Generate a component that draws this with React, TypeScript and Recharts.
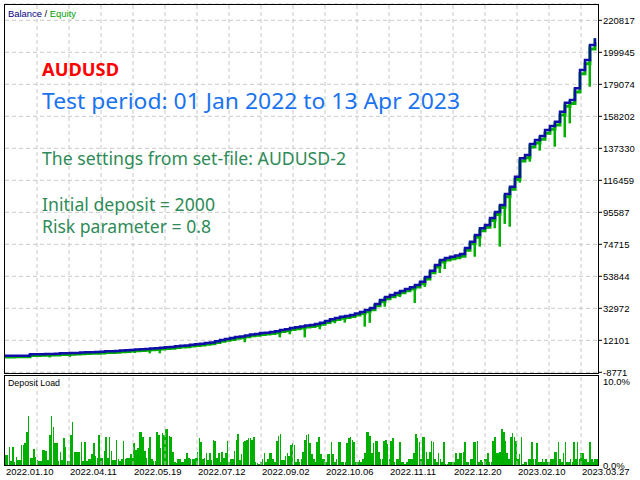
import { Bar, ComposedChart, Line, ReferenceLine, XAxis, YAxis, CartesianGrid } from "recharts";

// balance sampled evenly along the deal axis (119 samples)
const balance = [
  2000, 2000, 2000, 2000, 2100, 3000, 3000, 3050, 3100, 3200, 3250, 3600, 3650, 3800, 3850, 4150, 4300, 4350, 4450, 4600,
  4900, 4950, 5100, 5450, 5600, 5800, 6100, 6230, 6430, 6750, 6880, 7210, 7540, 7730, 8190, 8510, 8710, 9170, 9490, 9880,
  10340, 10665, 11450, 12300, 12950, 13600, 14250, 14580, 15230, 15880, 16210, 16860, 17060, 17510, 17970, 18820, 19270, 20120, 20580, 21100,
  21750, 22080, 22730, 23580, 24690, 25800, 26650, 27490, 27950, 28600, 29580, 30560, 31860, 33170, 35780, 38390, 40340, 41650, 42950, 44260,
  45560, 46670, 48170, 50320, 53390, 57500, 61220, 64480, 65780, 66630, 67410, 68390, 72300, 76410, 80780, 85150, 87300, 91870, 95780, 100350,
  107520, 112280, 118800, 130800, 132960, 140130, 142740, 145350, 149260, 151870, 154680, 161200, 167070, 168830, 176460, 188400, 194920, 204700, 209070,
];

const equity = [
  1200, 1250, 1300, 1300, 1350, 2200, 2250, 2300, 2350, 2450, 2500, 2850, 2900, 3050, 3100, 3400, 3550, 3600, 3700, 3850,
  4150, 4200, 4350, 4700, 4850, 5050, 5300, 5450, 5650, 5950, 6100, 6400, 6750, 6950, 7400, 7700, 7900, 8350, 8700, 9050,
  9500, 9850, 10600, 11450, 12100, 12700, 13400, 13700, 14350, 15000, 15350, 15950, 16200, 16600, 17100, 17900, 18350, 19200, 19650, 20200,
  20800, 21150, 21800, 22600, 23700, 24800, 25700, 26500, 26900, 27600, 28600, 29500, 30800, 32000, 34600, 37200, 39200, 40500, 41800, 43100,
  44400, 45500, 46900, 49000, 52100, 56200, 59900, 63100, 64400, 65300, 66000, 67000, 70900, 75000, 79300, 83600, 85800, 90300, 94200, 98700,
  105800, 110600, 117000, 129000, 131100, 138200, 140800, 143300, 147200, 149800, 152600, 159000, 164800, 166500, 174100, 186000, 192400, 202100, 206400,
];

// equity drawdown spikes: sample index -> lowest equity
const dipIndex = [5, 9, 13, 26, 29, 31, 48, 55, 57, 60, 63, 66, 68, 69, 72, 73, 74, 76, 79, 82, 84, 87, 88, 94, 95, 98, 99, 100, 101, 103, 105, 107, 110, 112, 113, 114, 117, 118];
const dipLow = [700, 900, 1200, 3800, 3600, 3600, 10800, 14000, 16000, 14000, 19300, 23200, 23600, 27300, 21000, 23500, 31900, 34000, 40300, 36400, 46900, 56000, 58600, 66600, 73200, 85200, 73200, 88000, 86200, 114900, 128600, 135800, 138400, 144500, 153600, 166200, 177500, 205800];

const depositLoad = [
  1.1, 1.1, 2.0, 0.5, 2.0, 0.3, 0.9, 0.6, 0.6, 2.2, 2.2, 2.5, 3.75, 5.5, 0.8, 0.8, 1.8, 0.9, 0.6, 0.5,
  0.5, 1.7, 1.7, 1.6, 0.6, 3.4, 5.5, 4.3, 2.5, 2.5, 0.5, 1.5, 0.6, 3.0, 2.0, 0.5, 0.5, 3.4, 4.8, 1.5,
  1.5, 1.5, 1.5, 2.6, 0.5, 2.6, 0.5, 0.7, 0.7, 1.25, 2.5, 1.0, 0.8, 3.4, 0.8, 0.8, 1.6, 3.2, 0.8, 3.1,
  1.6, 0.6, 0.6, 2.8, 0.7, 0.5, 0.7, 2.7, 0.7, 0.8, 0.8, 1.25, 0.8, 2.5, 1.7, 1.9, 3.75, 3.75, 3.1, 1.6,
  0.8, 1.9, 3.1, 0.7, 0.5, 0.5, 3.75, 3.4, 1.9, 3.6, 3.4, 4.1, 4.1, 3.3, 3.1, 1.5, 0.3, 0.2, 0.7, 0.7,
  0.3, 0.3, 0.7, 1.4, 0.8, 0.7, 0.7, 0.7, 0.8, 1.5, 3.0, 2.6, 0.7,
  0.8, 1.4, 0.6, 1.4, 0.6, 2.8, 2.7, 0.8, 1.4, 0.3, 1.5, 0.8, 1.4, 2.7, 0.3, 0.7, 0.7, 1.6, 2.8, 3.5,
  0.6, 1.25, 2.6, 2.7, 2.8, 3.0, 3.0, 2.8, 3.1, 0.3, 0.2, 0.1, 0.3, 0.7, 1.4, 0.3, 0.7, 1.4, 1.4, 0.7,
  0.3, 2.7, 3.3, 3.5, 0.6, 0.6, 1.0, 1.4, 1.0, 2.2, 2.5, 2.2, 0.3, 0.7, 0.3, 0.7, 1.5, 2.8, 3.4, 3.5,
  2.5, 1.25, 0.7, 0.3, 2.6, 3.1, 1.25, 0.7, 0.7, 0.3, 1.25, 1.25, 2.6, 1.25, 0.3, 0.7, 2.6, 2.6, 0.3, 0.3,
  0.3, 2.5, 3.0, 3.1, 2.8, 2.6, 0.3, 0.3, 0.6, 0.3, 0.7, 1.4, 3.75, 3.75, 3.3, 1.4, 2.5, 2.7, 2.7, 1.5,
  0.7, 0.7, 2.7, 2.8, 2.4, 0.7, 2.7, 3.0, 0.3, 0.7, 0.7,
  2.6, 0.3, 0.3, 0.1, 0.3, 0.7, 0.7, 0.7, 1.4, 3.5, 3.0, 2.6, 0.7, 3.1, 3.1, 1.5, 0.7, 1.5, 2.7, 2.6,
  0.7, 0.3, 1.4, 0.7, 0.3, 2.6, 0.1, 0.1, 0.3, 0.3, 0.3, 0.3, 1.4, 0.7, 1.4, 1.4, 1.5, 2.6, 0.3, 0.3,
  0.7, 0.7, 2.6, 2.6, 2.7, 0.3, 0.6, 0.3, 0.7, 0.7, 1.4, 0.3, 0.3, 2.7, 3.1, 1.4, 1.4, 1.5, 4.0, 3.75,
  2.7, 1.4, 0.7, 3.1, 3.6, 3.2, 2.7, 0.7, 1.25, 3.1, 0.1, 0.3, 0.3, 0.7, 0.7, 2.6, 0.7, 0.7, 2.5, 0.3,
  0.3, 0.7, 0.3, 0.7, 0.3, 0.3, 0.7, 0.7, 1.5, 1.5, 2.6, 0.7, 0.3, 1.4, 2.6, 0.3, 0.3, 0.7, 0.3, 2.6,
  0.7, 2.6, 0.7, 1.4, 1.4, 0.7, 0.7, 0.3, 2.6, 0.7, 0.3, 0.7, 0.7,
];

const dateLabels = [
  "2022.01.10", "2022.04.11", "2022.05.19", "2022.07.12", "2022.09.02",
  "2022.10.06", "2022.11.11", "2022.12.20", "2023.02.10", "2023.03.27",
];
const balanceTicks = [-8771, 12101, 32972, 53844, 74715, 95587, 116459, 137330, 158202, 179074, 199945, 220817];
const loadTicks = [0, 10];

// both panels share one deal axis: 0 .. X_MAX
const X_MAX = 118.6;
const GRID_STEP = 6.4;
const gridX = Array.from({ length: 18 }, (_, k) => (k + 1) * GRID_STEP);
const dateTicks = dateLabels.map((_, k) => k * GRID_STEP * 2);

const GRID = "#c8c8c8";
const BLUE = "#1010a8";
const GREEN = "#00b000";
const AXIS_FONT = "'Liberation Sans', Arial, sans-serif";
const TEXT_FONT = "'Noto Sans', 'Open Sans', sans-serif";

const mainData = balance.map((b, i) => {
  const d = dipIndex.indexOf(i);
  return { i, balance: b, equity: equity[i], dip: d >= 0 ? [dipLow[d], b] : null };
});
// deposit-load samples are spread evenly over the same deal axis
const loadData = depositLoad.map((load, n) => ({ i: ((n + 0.5) * X_MAX) / depositLoad.length, load }));

function BalanceTick({ x, y, payload }: any) {
  return (
    <text x={x} y={y + 4} fontSize={9.5} fontFamily={AXIS_FONT} fill="#000" textAnchor="start">
      {payload.value}
    </text>
  );
}

function LoadTick({ x, y, payload }: any) {
  return (
    <text x={x} y={payload.value === 10 ? y + 9 : y + 3.5} fontSize={9.5} fontFamily={AXIS_FONT} fill="#000" textAnchor="start">
      {payload.value.toFixed(1)}%
    </text>
  );
}

function DateTick({ x, y, payload }: any) {
  const label = dateLabels[dateTicks.indexOf(payload.value)];
  return (
    <text x={x + 1} y={y + 9.5} fontSize={9.5} fontFamily={AXIS_FONT} fill="#000" textAnchor="start">
      {label}
    </text>
  );
}

const box = (top: number, height: number): React.CSSProperties => ({
  position: "absolute",
  left: 4,
  top,
  width: 595,
  height,
  border: "1px solid #000",
  boxSizing: "border-box",
  pointerEvents: "none",
});

export default function App() {
  return (
    <div style={{ position: "absolute", left: 0, top: 0, width: 640, height: 480, background: "#fff", overflow: "hidden" }}>
      <div style={{ position: "absolute", left: 0, top: 0 }}>
        <ComposedChart width={640} height={378} data={mainData} margin={{ top: 4, right: 0, bottom: 5, left: 5 }}>
          <CartesianGrid vertical={false} stroke={GRID} strokeDasharray="4 3" />
          <XAxis type="number" dataKey="i" domain={[0, X_MAX]} hide allowDataOverflow />
          <YAxis
            orientation="right"
            domain={[-9228, 231452]}
            ticks={balanceTicks}
            interval={0}
            width={42}
            tickSize={4}
            tickMargin={1}
            axisLine={false}
            tickLine={{ stroke: "#000" }}
            tick={<BalanceTick />}
            allowDataOverflow
          />
          {gridX.map((x) => (
            <ReferenceLine key={x} x={x} stroke={GRID} strokeDasharray="4 3" />
          ))}
          <Bar dataKey="dip" fill={GREEN} barSize={2.5} isAnimationActive={false} />
          <Line type="stepAfter" dataKey="equity" stroke={GREEN} strokeWidth={3} dot={false} isAnimationActive={false} />
          <Line type="stepAfter" dataKey="balance" stroke={BLUE} strokeWidth={2.5} dot={false} isAnimationActive={false} />
        </ComposedChart>
      </div>

      <div style={{ position: "absolute", left: 0, top: 375 }}>
        <ComposedChart width={640} height={105} data={loadData} margin={{ top: 1, right: 0, bottom: 0, left: 5 }}>
          <XAxis
            type="number"
            dataKey="i"
            domain={[0, X_MAX]}
            ticks={dateTicks}
            interval={0}
            height={15}
            tickSize={0}
            tickMargin={0}
            tickLine={false}
            axisLine={false}
            tick={<DateTick />}
            allowDataOverflow
          />
          <YAxis
            orientation="right"
            domain={[0, 10]}
            ticks={loadTicks}
            interval={0}
            width={42}
            tickSize={0}
            tickMargin={5}
            tickLine={false}
            axisLine={false}
            tick={<LoadTick />}
          />
          {gridX.map((x) => (
            <ReferenceLine key={x} x={x} stroke={GRID} strokeDasharray="4 3" />
          ))}
          <Bar dataKey="load" fill={GREEN} barSize={2.6} shapeRendering="crispEdges" isAnimationActive={false} />
        </ComposedChart>
      </div>

      <div style={box(4, 370)} />
      <div style={box(375, 91)} />

      <svg width={640} height={480} style={{ position: "absolute", left: 0, top: 0, pointerEvents: "none" }}>
        <text x={8} y={16.5} fontSize={9.5} fontFamily={AXIS_FONT} textLength={68} lengthAdjust="spacingAndGlyphs">
          <tspan fill="#000080">Balance</tspan>
          <tspan fill="#000"> / </tspan>
          <tspan fill="#00a000">Equity</tspan>
        </text>
        <text x={8} y={386} fontSize={9.5} fontFamily={AXIS_FONT} fill="#000" textLength={52} lengthAdjust="spacingAndGlyphs">
          Deposit Load
        </text>
        <text x={42} y={76} fontSize={18} fontWeight="bold" fontFamily={TEXT_FONT} fill="#ff0000" textLength={77} lengthAdjust="spacingAndGlyphs">
          AUDUSD
        </text>
        <text x={42} y={109.3} fontSize={22.5} fontFamily={TEXT_FONT} fill="#1a73f0" textLength={418} lengthAdjust="spacingAndGlyphs">
          Test period: 01 Jan 2022 to 13 Apr 2023
        </text>
        <text x={42} y={165} fontSize={17.5} fontFamily={TEXT_FONT} fill="#2e8b57" textLength={304} lengthAdjust="spacingAndGlyphs">
          The settings from set-file: AUDUSD-2
        </text>
        <text x={42} y={211} fontSize={18} fontFamily={TEXT_FONT} fill="#2e8b57" textLength={173} lengthAdjust="spacingAndGlyphs">
          Initial deposit = 2000
        </text>
        <text x={42} y={232.7} fontSize={18} fontFamily={TEXT_FONT} fill="#2e8b57" textLength={169} lengthAdjust="spacingAndGlyphs">
          Risk parameter = 0.8
        </text>
      </svg>
    </div>
  );
}
